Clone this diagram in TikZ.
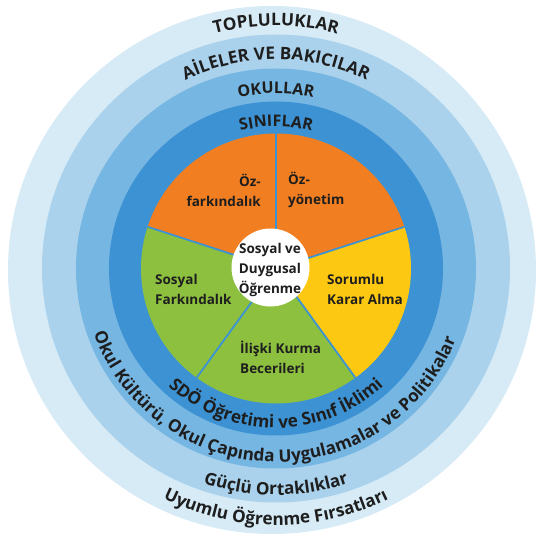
\documentclass[tikz,border=0pt]{standalone}
\usepackage{fontspec}
\setmainfont{Open Sans}
\usetikzlibrary{decorations.text}

\definecolor{ringOuter}{HTML}{D6EBF6}
\definecolor{ringFam}{HTML}{AAD2EC}
\definecolor{ringSchool}{HTML}{76B6E2}
\definecolor{ringClass}{HTML}{3C92D2}
\definecolor{selfOrange}{HTML}{F27E22}
\definecolor{decYellow}{HTML}{FDC811}
\definecolor{socGreen}{HTML}{8DC03F}
\definecolor{inkdark}{HTML}{1E1E1E}

\newcommand{\ringfont}{\bfseries\fontsize{16}{18}\selectfont}
\newcommand{\bigringfont}{\bfseries\fontsize{17.2}{19}\selectfont}

\tikzset{
  slice/.style={draw=ringClass, line width=1.8pt},
  pielabel/.style={font=\bfseries\fontsize{13.5}{20}\selectfont, text=inkdark, inner sep=0pt},
  ringtext/.style={decorate, decoration={text along path, text align=center,
      text color=inkdark, text={|\ringfont|#1}}},
  bigringtext/.style={decorate, decoration={text along path, text align=center,
      text color=inkdark, text={|\bigringfont|#1}}},
}

\begin{document}
\begin{tikzpicture}[x=1pt,y=1pt]
\useasboundingbox (-276,-272.5) rectangle (264,268.5);
% nested rings
\fill[ringOuter] (-4,-1.5) circle[radius=264];
\fill[ringFam] (0,0) circle[radius=234];
\fill[ringSchool] (0,0) circle[radius=200];
\fill[ringClass] (0,0) circle[radius=167];
% the five competences
\foreach \a/\b/\c in {18/90/selfOrange, 90/162/selfOrange, 162/234/socGreen, 234/306/socGreen, -54/18/decYellow} {
  \fill[\c] (0,0) -- (\a:135) arc[start angle=\a, end angle=\b, radius=135] -- cycle; }
\foreach \a in {90,18,-54,-126,162} { \draw[slice] (0,0) -- (\a:135); }
\fill[white] (-5.5,1) circle[radius=39];
% ring labels, top
\path[bigringtext={TOPLULUKLAR}] (160:242.5) arc[start angle=160, end angle=20, radius=242.5];
\path[bigringtext={AİLELER VE BAKICILAR}] (160:209) arc[start angle=160, end angle=20, radius=209];
\path[ringtext={OKULLAR}] (160:175) arc[start angle=160, end angle=20, radius=175];
\path[ringtext={SINIFLAR}] (160:142) arc[start angle=160, end angle=20, radius=142];
% ring labels, bottom
\path[bigringtext={SDÖ Öğretimi ve Sınıf İklimi}] (195:159.5) arc[start angle=195, end angle=345, radius=159.5];
\path[bigringtext={Okul Kültürü, Okul Çapında Uygulamalar ve Politikalar}] (183:193.5) arc[start angle=183, end angle=355, radius=193.5];
\path[bigringtext={Güçlü Ortaklıklar}] (200:226.5) arc[start angle=200, end angle=340, radius=226.5];
\path[bigringtext={Uyumlu Öğrenme Fırsatları}] (200:256.5) arc[start angle=200, end angle=340, radius=256.5];
% slice labels
\node[pielabel, anchor=east, align=right] (selfaware) at (-15,78.5) {Öz-\\farkındalık};
\node[pielabel, anchor=west, align=left] (selfmanage) at (12,78.5) {Öz-\\yönetim};
\node[pielabel, anchor=west, align=left] (socaware) at (-121,-20.5) {Sosyal\\Farkındalık};
\node[pielabel, anchor=west, align=left] (decision) at (51,-20.5) {Sorumlu\\Karar Alma};
\node[pielabel, anchor=west, align=left] (relation) at (-36,-88.5) {İlişki Kurma\\Becerileri};
\node[pielabel, align=center] (sel) at (-6,-1.5) {Sosyal ve\\Duygusal\\Öğrenme};
\end{tikzpicture}
\end{document}
